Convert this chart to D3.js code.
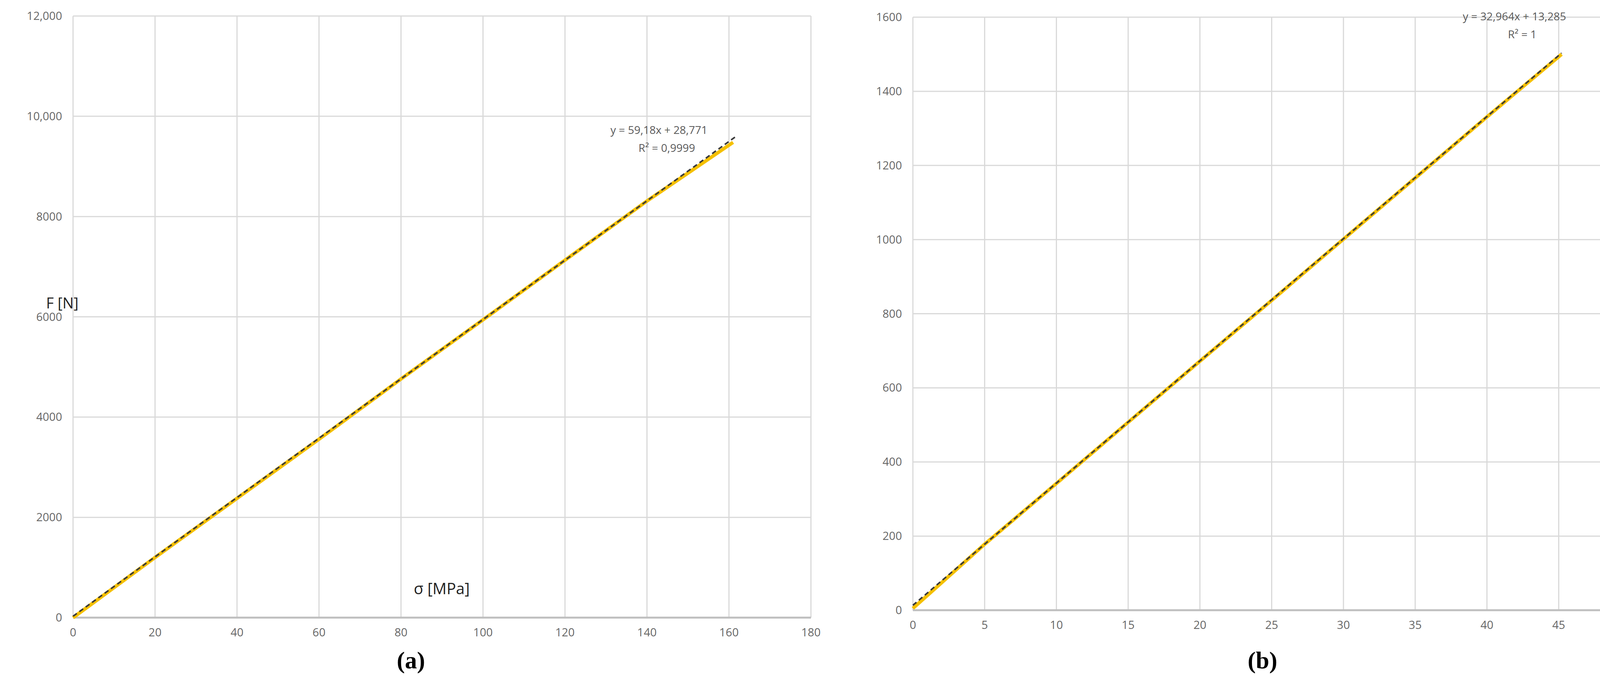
<!DOCTYPE html>
<html><head><meta charset="utf-8">
<script src="https://cdn.jsdelivr.net/npm/d3@7"></script>
<style>html,body{margin:0;padding:0;background:#fff;overflow:hidden}svg{display:block}</style></head>
<body><svg id="c" width="4306" height="1793"></svg>
<script>
const sigmaA=[0,20,40,60,80,100,120,140,161];
const forceA=[0,1200,2380,3560,4760,5940,7130,8310,9480];
const fitA={slope:59.18,intercept:28.771,x0:0,x1:161.5,eq:"y = 59,18x + 28,771",r2:"R² = 0,9999"};
const xTicksA=[0,20,40,60,80,100,120,140,160,180];
const yTicksA=[0,2000,4000,6000,8000,10000,12000];

const sigmaB=[0,5,10,15,20,25,30,35,40,45.2];
const forceB=[5,178,342,507,672,836,1001,1166,1331,1500];
const fitB={slope:32.964,intercept:13.285,x0:0,x1:45.2,eq:"y = 32,964x + 13,285",r2:"R² = 1"};
const xTicksB=[0,5,10,15,20,25,30,35,40,45,50];
const yTicksB=[0,200,400,600,800,1000,1200,1400,1600];

const svg=d3.select("#c");
const font="'Open Sans', 'Liberation Sans', sans-serif";
const fmtA=v=>v>=10000?d3.format(",")(v):String(v);

function panel(o){
  const x=d3.scaleLinear().domain(o.xd).range([o.l,o.r]);
  const y=d3.scaleLinear().domain(o.yd).range([o.b,o.t]);
  const g=svg.append("g");
  g.selectAll(".vg").data(o.xt).join("line").attr("x1",d=>x(d)).attr("x2",d=>x(d))
    .attr("y1",o.t).attr("y2",o.b).attr("stroke","#d9d9d9").attr("stroke-width",3);
  g.selectAll(".hg").data(o.yt).join("line").attr("y1",d=>y(d)).attr("y2",d=>y(d))
    .attr("x1",o.l).attr("x2",o.r).attr("stroke",d=>d===0?"#bfbfbf":"#d9d9d9").attr("stroke-width",d=>d===0?5:3);
  g.selectAll(".xl").data(o.xt).join("text").attr("x",d=>x(d)).attr("y",o.b+48)
    .attr("text-anchor","middle").attr("font-family",font).attr("font-size",29).attr("fill","#666").text(d=>d);
  g.selectAll(".yl").data(o.yt).join("text").attr("x",o.l-28).attr("y",d=>y(d)+10)
    .attr("text-anchor","end").attr("font-family",font).attr("font-size",29).attr("fill","#666").text(o.fmt);
  const line=d3.line().x(d=>x(d[0])).y(d=>y(d[1]));
  g.append("path").datum(o.xs.map((v,i)=>[v,o.ys[i]])).attr("d",line)
    .attr("fill","none").attr("stroke","#f5c000").attr("stroke-width",9);
  const f=o.fit;
  g.append("path").datum([[f.x0,f.intercept],[f.x1,f.slope*f.x1+f.intercept]]).attr("d",line)
    .attr("fill","none").attr("stroke","#3a3a3a").attr("stroke-width",4).attr("stroke-dasharray","12,8");
  g.append("text").attr("x",o.eqx).attr("y",o.eqy).attr("text-anchor","middle").attr("font-family",font)
    .attr("font-size",28).attr("fill","#595959").text(f.eq);
  g.append("text").attr("x",o.eqx+20).attr("y",o.eqy+46).attr("text-anchor","middle").attr("font-family",font)
    .attr("font-size",28).attr("fill","#595959").text(f.r2);
  g.append("text").attr("x",o.capx).attr("y",1712).attr("text-anchor","middle")
    .attr("font-family","'Liberation Serif', serif").attr("font-weight","bold").attr("font-size",62).text(o.cap);
}
panel({l:187,r:2076,t:41,b:1582,xd:[0,180],yd:[0,12000],xt:xTicksA,yt:yTicksA,xs:sigmaA,ys:forceA,fit:fitA,
  fmt:fmtA,eqx:1687,eqy:343,capx:1052,cap:"(a)"});
panel({l:2337,r:4174,t:44,b:1563,xd:[0,50],yd:[0,1600],xt:xTicksB,yt:yTicksB,xs:sigmaB,ys:forceB,fit:fitB,
  fmt:d=>d,eqx:3877,eqy:52,capx:3232,cap:"(b)"});
svg.append("text").attr("x",118).attr("y",790).attr("font-family",font).attr("font-size",38).attr("fill","#222").text("F [N]");
svg.append("text").attr("x",1131).attr("y",1522).attr("text-anchor","middle").attr("font-family",font).attr("font-size",40).attr("fill","#222").text("σ [MPa]");
</script></body></html>
